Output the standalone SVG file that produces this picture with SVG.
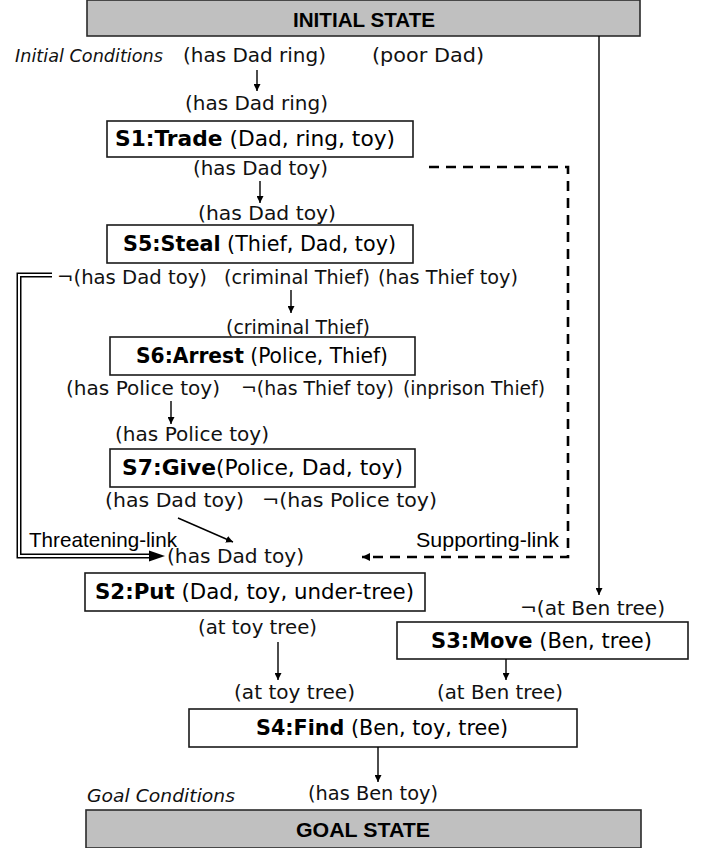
<svg xmlns="http://www.w3.org/2000/svg" width="709" height="848" viewBox="0 0 709 848">
<style>
.bg{fill:#ffffff}
.hdr{fill:#c0c0c0;stroke:#2a2a2a;stroke-width:1.6}
.box{fill:#ffffff;stroke:#1a1a1a;stroke-width:1.6}
.ht{font-family:"Liberation Sans",Arial,sans-serif;font-weight:bold;font-size:20px;fill:#000}
.cond{font-family:"DejaVu Sans","Liberation Sans",sans-serif;font-size:19px;fill:#111}
.it{font-family:"DejaVu Sans","Liberation Sans",sans-serif;font-style:italic;font-size:17px;fill:#111}
.st{font-family:"DejaVu Sans","Liberation Sans",sans-serif;font-size:21px;fill:#000}
.st tspan.b{font-weight:bold}
.lk{font-family:"Liberation Sans",Arial,sans-serif;font-size:21px;fill:#000}
.ar{fill:none;stroke:#000;stroke-width:1.4}
.dash{fill:none;stroke:#000;stroke-width:2.6;stroke-dasharray:10,7}
</style>
<defs>
<marker id="ah" viewBox="0 0 10 10" refX="10" refY="5" markerWidth="7" markerHeight="7" markerUnits="userSpaceOnUse" orient="auto">
<path d="M0,0 L10,5 L0,10 z" fill="#000"/>
</marker>
<marker id="ahd" viewBox="0 0 10 10" refX="10" refY="5" markerWidth="3.2" markerHeight="3.2" orient="auto">
<path d="M0,0 L10,5 L0,10 z" fill="#000"/>
</marker>
</defs>
<rect class="bg" x="0" y="0" width="709" height="848"/>

<g id="initial-state">
<rect class="hdr" x="87" y="0" width="553" height="36"/>
<text class="ht" x="293" y="27" textLength="142" lengthAdjust="spacingAndGlyphs">INITIAL STATE</text>
<text class="it" x="15" y="62" textLength="148" lengthAdjust="spacingAndGlyphs">Initial Conditions</text>
<text class="cond" x="183" y="62" textLength="143" lengthAdjust="spacingAndGlyphs">(has Dad ring)</text>
<text class="cond" x="372" y="62" textLength="112" lengthAdjust="spacingAndGlyphs">(poor Dad)</text>
</g>

<g id="S1">
<text class="cond" x="185" y="110" textLength="143" lengthAdjust="spacingAndGlyphs">(has Dad ring)</text>
<rect class="box" x="107" y="121" width="306" height="36"/>
<text class="st" x="115" y="146" textLength="280" lengthAdjust="spacingAndGlyphs"><tspan class="b">S1:Trade</tspan> (Dad, ring, toy)</text>
<text class="cond" x="193" y="175" textLength="135" lengthAdjust="spacingAndGlyphs">(has Dad toy)</text>
</g>

<g id="S5">
<text class="cond" x="198" y="220" textLength="138" lengthAdjust="spacingAndGlyphs">(has Dad toy)</text>
<rect class="box" x="107" y="225" width="306" height="38"/>
<text class="st" x="123" y="251" textLength="273" lengthAdjust="spacingAndGlyphs"><tspan class="b">S5:Steal</tspan> (Thief, Dad, toy)</text>
<text class="cond" x="57" y="284" textLength="150" lengthAdjust="spacingAndGlyphs">¬(has Dad toy)</text>
<text class="cond" x="224" y="284" textLength="146" lengthAdjust="spacingAndGlyphs">(criminal Thief)</text>
<text class="cond" x="378" y="284" textLength="140" lengthAdjust="spacingAndGlyphs">(has Thief toy)</text>
</g>

<g id="S6">
<text class="cond" x="226" y="334" textLength="144" lengthAdjust="spacingAndGlyphs">(criminal Thief)</text>
<rect class="box" x="110" y="337" width="305" height="38"/>
<text class="st" x="136" y="363" textLength="252" lengthAdjust="spacingAndGlyphs"><tspan class="b">S6:Arrest</tspan> (Police, Thief)</text>
<text class="cond" x="66" y="395" textLength="154" lengthAdjust="spacingAndGlyphs">(has Police toy)</text>
<text class="cond" x="241" y="395" textLength="153" lengthAdjust="spacingAndGlyphs">¬(has Thief toy)</text>
<text class="cond" x="403" y="395" textLength="142" lengthAdjust="spacingAndGlyphs">(inprison Thief)</text>
</g>

<g id="S7">
<text class="cond" x="115" y="441" textLength="154" lengthAdjust="spacingAndGlyphs">(has Police toy)</text>
<rect class="box" x="110" y="449" width="305" height="38"/>
<text class="st" x="122" y="475" textLength="281" lengthAdjust="spacingAndGlyphs"><tspan class="b">S7:Give</tspan>(Police, Dad, toy)</text>
<text class="cond" x="105" y="507" textLength="139" lengthAdjust="spacingAndGlyphs">(has Dad toy)</text>
<text class="cond" x="262" y="507" textLength="175" lengthAdjust="spacingAndGlyphs">¬(has Police toy)</text>
</g>

<g id="S2">
<text class="cond" x="167" y="563" textLength="137" lengthAdjust="spacingAndGlyphs">(has Dad toy)</text>
<rect class="box" x="85" y="573" width="340" height="38"/>
<text class="st" x="95" y="599" textLength="319" lengthAdjust="spacingAndGlyphs"><tspan class="b">S2:Put</tspan> (Dad, toy, under-tree)</text>
<text class="cond" x="198" y="634" textLength="119" lengthAdjust="spacingAndGlyphs">(at toy tree)</text>
</g>

<g id="S3">
<text class="cond" x="520" y="615" textLength="145" lengthAdjust="spacingAndGlyphs">¬(at Ben tree)</text>
<rect class="box" x="397" y="622" width="291" height="37"/>
<text class="st" x="431" y="648" textLength="221" lengthAdjust="spacingAndGlyphs"><tspan class="b">S3:Move</tspan> (Ben, tree)</text>
</g>

<g id="S4">
<text class="cond" x="234" y="699" textLength="121" lengthAdjust="spacingAndGlyphs">(at toy tree)</text>
<text class="cond" x="437" y="699" textLength="126" lengthAdjust="spacingAndGlyphs">(at Ben tree)</text>
<rect class="box" x="189" y="709" width="388" height="38"/>
<text class="st" x="256" y="735" textLength="252" lengthAdjust="spacingAndGlyphs"><tspan class="b">S4:Find</tspan> (Ben, toy, tree)</text>
</g>

<g id="goal-state">
<text class="it" x="87" y="802" textLength="148" lengthAdjust="spacingAndGlyphs">Goal Conditions</text>
<text class="cond" x="308" y="800" textLength="130" lengthAdjust="spacingAndGlyphs">(has Ben toy)</text>
<rect class="hdr" x="86" y="810" width="555" height="38"/>
<text class="ht" x="296" y="837" textLength="134" lengthAdjust="spacingAndGlyphs">GOAL STATE</text>
</g>

<g id="connectors">
<line class="ar" x1="257" y1="70" x2="257" y2="91" marker-end="url(#ah)"/>
<line class="ar" x1="260" y1="181" x2="260" y2="203" marker-end="url(#ah)"/>
<line class="ar" x1="291" y1="290" x2="291" y2="313" marker-end="url(#ah)"/>
<line class="ar" x1="171" y1="401" x2="171" y2="424" marker-end="url(#ah)"/>
<line class="ar" x1="178" y1="518" x2="233" y2="542" marker-end="url(#ah)"/>
<line class="ar" x1="278" y1="642" x2="278" y2="680" marker-end="url(#ah)"/>
<line class="ar" x1="506" y1="659" x2="506" y2="680" marker-end="url(#ah)"/>
<line class="ar" x1="378" y1="747" x2="378" y2="782" marker-end="url(#ah)"/>
<line class="ar" x1="599" y1="36" x2="599" y2="595" marker-end="url(#ah)"/>
<g id="supporting-link">
<path class="dash" d="M429,167 H568 V557 H362" marker-end="url(#ahd)"/>
<text class="lk" x="416" y="547" textLength="143" lengthAdjust="spacingAndGlyphs">Supporting-link</text>
</g>
<g id="threatening-link">
<path d="M52,275 H19 V556 H150" fill="none" stroke="#000" stroke-width="5"/>
<path d="M53,275 H19 V556 H151" fill="none" stroke="#fff" stroke-width="2"/>
<path d="M149,550.5 L165,556 L149,561.5 z" fill="#000"/>
<text class="lk" x="29" y="547" textLength="148" lengthAdjust="spacingAndGlyphs">Threatening-link</text>
</g>
</g>
</svg>
